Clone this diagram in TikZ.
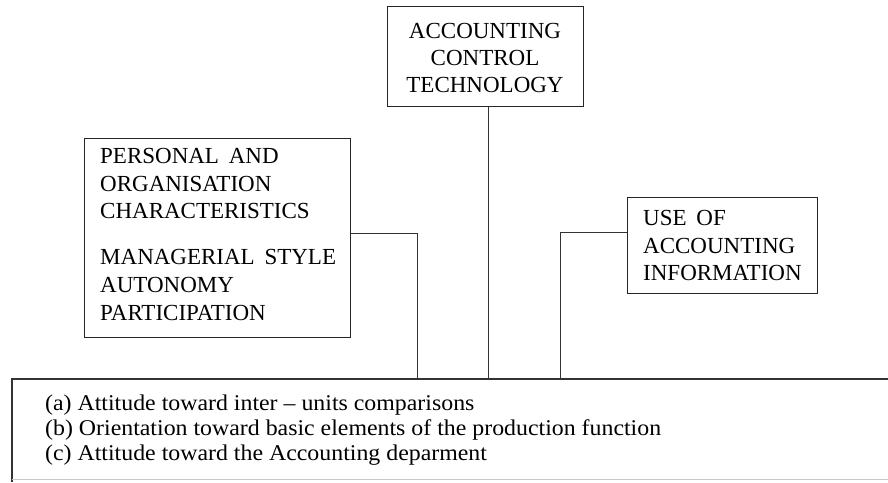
\documentclass[tikz,border=0pt]{standalone}
\usepackage{fontspec}
\setmainfont{Liberation Serif}
\newfontfamily\capsfont[Ligatures=TeX,WordSpace=1.7]{Liberation Serif}
\newfontfamily\itemfont[Ligatures=TeX,FakeStretch=1.06]{Liberation Serif}
\begin{document}
\begin{tikzpicture}[x=1pt,y=-1pt,
  frame/.style={draw=black!85, line width=1.1pt, inner sep=0pt, anchor=north west},
  link/.style={draw=black!80, line width=1pt},
  line/.style={anchor=base west, inner sep=0pt, font=\capsfont\fontsize{23}{27.5}\selectfont},
  cline/.style={anchor=base, inner sep=0pt, font=\capsfont\fontsize{23}{27.5}\selectfont},
  item/.style={anchor=base west, inner sep=0pt, font=\itemfont\fontsize{22.5}{25}\selectfont}]
\fill[white] (0,0) rectangle (888,482);
\useasboundingbox (0,0) rectangle (888,482);

% Frames
\node[frame, minimum width=196pt, minimum height=100pt] (tech) at (387,6) {};
\node[frame, minimum width=266pt, minimum height=199pt] (pers) at (84,138) {};
\node[frame, minimum width=190pt, minimum height=96pt] (use) at (627,197) {};

% Accounting control technology
\node[cline] (tech1) at (485,38) {ACCOUNTING};
\node[cline] (tech2) at (485,65) {CONTROL};
\node[cline] (tech3) at (485,92) {TECHNOLOGY};

% Personal and organisation characteristics
\node[line] (pers1) at (100,163) {PERSONAL AND};
\node[line] (pers2) at (100,191) {ORGANISATION};
\node[line] (pers3) at (100,218) {CHARACTERISTICS};
\node[line] (pers4) at (100,264) {MANAGERIAL STYLE};
\node[line] (pers5) at (100,292) {AUTONOMY};
\node[line] (pers6) at (100,320) {PARTICIPATION};

% Use of accounting information
\node[line] (use1) at (643,225) {USE OF};
\node[line] (use2) at (643,253) {ACCOUNTING};
\node[line] (use3) at (643,280) {INFORMATION};

% Open outcome frame along the bottom
\coordinate (out) at (12,379);
\coordinate (outr) at (888,379);
\coordinate (outb) at (12,482);
\draw[link, line width=1.1pt] (outr) -- (out) -- (outb);
\draw[black!22, line width=0.8pt] (12,479) -- (888,479);

\node[item] (oa) at (45,410) {(a) Attitude toward inter -- units comparisons};
\node[item] (ob) at (45,435) {(b) Orientation toward basic elements of the production function};
\node[item] (oc) at (45,460) {(c) Attitude toward the Accounting deparment};

% Connectors into the outcome frame
\coordinate (pbend) at (417,233);
\coordinate (ubend) at (560,232);
\draw[link] (pers.east |- pbend) -| (pbend |- out);
\draw[link] (tech.south -| 488,0) -- (488,379);
\draw[link] (use.west |- ubend) -| (ubend |- out);
\end{tikzpicture}
\end{document}
